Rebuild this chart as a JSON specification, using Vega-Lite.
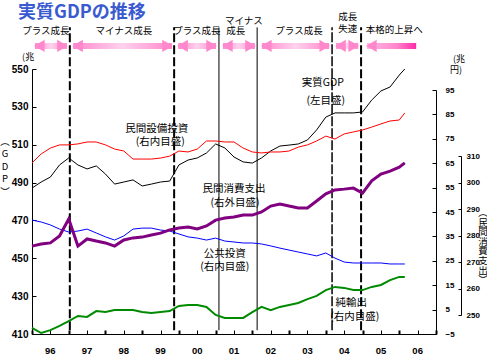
{
  "$schema": "https://vega.github.io/schema/vega-lite/v6.json",
  "width": 404,
  "height": 265,
  "autosize": "none",
  "padding": {"left": 32, "top": 69, "right": 51, "bottom": 21},
  "background": "white",
  "config": {
    "view": {"stroke": null},
    "axis": {"grid": false, "domainColor": "black", "tickColor": "black", "labelColor": "black", "labelFont": "Liberation Sans", "labelFontWeight": "bold", "domainWidth": 1},
    "text": {"font": "Noto Sans CJK JP", "color": "black"}
  },
  "datasets": {
    "q": [
      {"t": 1996.00, "gdp": 487.1, "capex": 65.1, "pub": 41.7, "nx": -2.5, "cons": 276.0},
      {"t": 1996.25, "gdp": 490.3, "capex": 68.8, "pub": 40.9, "nx": -4.6, "cons": 276.8},
      {"t": 1996.50, "gdp": 492.9, "capex": 71.2, "pub": 39.7, "nx": -3.4, "cons": 277.2},
      {"t": 1996.75, "gdp": 499.3, "capex": 72.5, "pub": 38.0, "nx": -1.7, "cons": 279.8},
      {"t": 1997.00, "gdp": 503.0, "capex": 72.5, "pub": 36.8, "nx": 0.3, "cons": 286.2},
      {"t": 1997.25, "gdp": 499.3, "capex": 72.9, "pub": 37.2, "nx": 2.4, "cons": 276.0},
      {"t": 1997.50, "gdp": 497.2, "capex": 73.7, "pub": 38.0, "nx": 2.0, "cons": 278.7},
      {"t": 1997.75, "gdp": 498.8, "capex": 73.7, "pub": 36.4, "nx": 4.4, "cons": 277.9},
      {"t": 1998.00, "gdp": 494.5, "capex": 72.5, "pub": 34.8, "nx": 4.0, "cons": 277.2},
      {"t": 1998.25, "gdp": 489.2, "capex": 70.8, "pub": 33.5, "nx": 4.8, "cons": 276.0},
      {"t": 1998.50, "gdp": 490.3, "capex": 70.0, "pub": 35.2, "nx": 4.8, "cons": 278.3},
      {"t": 1998.75, "gdp": 491.4, "capex": 66.7, "pub": 38.0, "nx": 4.8, "cons": 279.1},
      {"t": 1999.00, "gdp": 488.2, "capex": 66.7, "pub": 38.4, "nx": 4.0, "cons": 279.4},
      {"t": 1999.25, "gdp": 489.2, "capex": 66.7, "pub": 38.4, "nx": 3.6, "cons": 280.2},
      {"t": 1999.50, "gdp": 490.3, "capex": 67.1, "pub": 37.6, "nx": 4.0, "cons": 280.9},
      {"t": 1999.75, "gdp": 490.8, "capex": 67.9, "pub": 37.2, "nx": 4.4, "cons": 282.1},
      {"t": 2000.00, "gdp": 499.3, "capex": 70.0, "pub": 36.0, "nx": 6.5, "cons": 282.8},
      {"t": 2000.25, "gdp": 501.9, "capex": 69.6, "pub": 34.8, "nx": 6.9, "cons": 283.2},
      {"t": 2000.50, "gdp": 503.0, "capex": 70.8, "pub": 34.3, "nx": 6.9, "cons": 282.5},
      {"t": 2000.75, "gdp": 505.6, "capex": 74.1, "pub": 33.5, "nx": 6.1, "cons": 283.6},
      {"t": 2001.00, "gdp": 510.4, "capex": 74.1, "pub": 34.3, "nx": 2.8, "cons": 285.8},
      {"t": 2001.25, "gdp": 508.3, "capex": 73.7, "pub": 33.1, "nx": 1.6, "cons": 286.6},
      {"t": 2001.50, "gdp": 503.5, "capex": 73.7, "pub": 32.7, "nx": 1.6, "cons": 287.0},
      {"t": 2001.75, "gdp": 500.9, "capex": 71.2, "pub": 32.3, "nx": 1.6, "cons": 287.7},
      {"t": 2002.00, "gdp": 500.3, "capex": 69.6, "pub": 32.3, "nx": 4.0, "cons": 287.7},
      {"t": 2002.25, "gdp": 503.0, "capex": 69.2, "pub": 31.9, "nx": 6.1, "cons": 288.9},
      {"t": 2002.50, "gdp": 506.7, "capex": 69.6, "pub": 31.1, "nx": 4.8, "cons": 291.1},
      {"t": 2002.75, "gdp": 509.3, "capex": 69.6, "pub": 30.2, "nx": 6.1, "cons": 291.9},
      {"t": 2003.00, "gdp": 509.8, "capex": 70.0, "pub": 29.4, "nx": 6.9, "cons": 291.1},
      {"t": 2003.25, "gdp": 510.4, "capex": 71.6, "pub": 28.6, "nx": 7.7, "cons": 290.4},
      {"t": 2003.50, "gdp": 512.5, "capex": 72.5, "pub": 27.8, "nx": 9.3, "cons": 290.4},
      {"t": 2003.75, "gdp": 517.8, "capex": 74.1, "pub": 27.0, "nx": 10.6, "cons": 293.0},
      {"t": 2004.00, "gdp": 524.6, "capex": 76.1, "pub": 28.2, "nx": 13.0, "cons": 295.7},
      {"t": 2004.25, "gdp": 526.8, "capex": 74.9, "pub": 26.1, "nx": 14.3, "cons": 297.2},
      {"t": 2004.50, "gdp": 526.8, "capex": 77.0, "pub": 24.5, "nx": 13.9, "cons": 297.5},
      {"t": 2004.75, "gdp": 526.8, "capex": 77.8, "pub": 24.1, "nx": 13.0, "cons": 297.9},
      {"t": 2005.00, "gdp": 527.3, "capex": 78.6, "pub": 24.1, "nx": 13.0, "cons": 296.0},
      {"t": 2005.25, "gdp": 533.6, "capex": 79.8, "pub": 24.1, "nx": 14.3, "cons": 300.6},
      {"t": 2005.50, "gdp": 538.4, "capex": 81.1, "pub": 24.1, "nx": 15.1, "cons": 303.2},
      {"t": 2005.75, "gdp": 540.5, "capex": 82.3, "pub": 23.7, "nx": 17.1, "cons": 304.3},
      {"t": 2006.00, "gdp": 546.8, "capex": 82.7, "pub": 23.7, "nx": 18.4, "cons": 305.8},
      {"t": 2006.15, "gdp": 550.0, "capex": 85.6, "pub": 23.7, "nx": 18.4, "cons": 307.4}
    ]
  },
  "layer": [
    {
      "layer": [
        {
          "data": {"name": "q"},
          "mark": {"type": "line", "color": "black", "strokeWidth": 1},
          "encoding": {
            "x": {"field": "t", "type": "quantitative", "title": null, "scale": {"domain": [1996, 2007], "nice": false, "zero": false},
              "axis": {"values": [1996, 1996.5, 1997, 1997.5, 1998, 1998.5, 1999, 1999.5, 2000, 2000.5, 2001, 2001.5, 2002, 2002.5, 2003, 2003.5, 2004, 2004.5, 2005, 2005.5, 2006, 2006.5, 2007], "labels": false, "tickSize": -4, "tickWidth": {"condition": {"test": "datum.value % 1 == 0", "value": 2}, "value": 1}}},
            "y": {"field": "gdp", "type": "quantitative", "title": null, "scale": {"domain": [410, 550], "nice": false, "zero": false},
              "axis": {"orient": "left", "values": [410, 430, 450, 470, 490, 510, 530, 550], "tickSize": -4, "labelPadding": 8, "labelFontSize": 10}}
          }
        },
        {
          "data": {"values": [{"t": 1997.03, "y1": 412, "y2": 572}, {"t": 1999.87, "y1": 412, "y2": 572}, {"t": 2004.96, "y1": 412, "y2": 572}]},
          "mark": {"type": "rule", "color": "black", "strokeWidth": 2, "strokeDash": [9, 3]},
          "encoding": {
            "x": {"field": "t", "type": "quantitative", "title": null, "scale": {"domain": [1996, 2007], "nice": false, "zero": false},
              "axis": {"values": [1996, 1996.5, 1997, 1997.5, 1998, 1998.5, 1999, 1999.5, 2000, 2000.5, 2001, 2001.5, 2002, 2002.5, 2003, 2003.5, 2004, 2004.5, 2005, 2005.5, 2006, 2006.5, 2007], "labels": false, "tickSize": -4, "tickWidth": {"condition": {"test": "datum.value % 1 == 0", "value": 2}, "value": 1}}},
            "y": {"field": "y1", "type": "quantitative", "title": null, "scale": {"domain": [410, 550], "nice": false, "zero": false},
              "axis": {"orient": "left", "values": [410, 430, 450, 470, 490, 510, 530, 550], "tickSize": -4, "labelPadding": 8, "labelFontSize": 10}},
            "y2": {"field": "y2"}
          }
        },
        {
          "data": {"values": [{"t": 2004.17, "y1": 412, "y2": 572}]},
          "mark": {"type": "rule", "color": "black", "strokeWidth": 1.5, "strokeDash": [10, 2]},
          "encoding": {
            "x": {"field": "t", "type": "quantitative", "title": null, "scale": {"domain": [1996, 2007], "nice": false, "zero": false},
              "axis": {"values": [1996, 1996.5, 1997, 1997.5, 1998, 1998.5, 1999, 1999.5, 2000, 2000.5, 2001, 2001.5, 2002, 2002.5, 2003, 2003.5, 2004, 2004.5, 2005, 2005.5, 2006, 2006.5, 2007], "labels": false, "tickSize": -4, "tickWidth": {"condition": {"test": "datum.value % 1 == 0", "value": 2}, "value": 1}}},
            "y": {"field": "y1", "type": "quantitative", "title": null, "scale": {"domain": [410, 550], "nice": false, "zero": false},
              "axis": {"orient": "left", "values": [410, 430, 450, 470, 490, 510, 530, 550], "tickSize": -4, "labelPadding": 8, "labelFontSize": 10}},
            "y2": {"field": "y2"}
          }
        },
        {
          "data": {"values": [{"t": 2001.09, "y1": 412, "y2": 572}, {"t": 2002.13, "y1": 412, "y2": 572}]},
          "mark": {"type": "rule", "color": "black", "strokeWidth": 1},
          "encoding": {
            "x": {"field": "t", "type": "quantitative", "title": null, "scale": {"domain": [1996, 2007], "nice": false, "zero": false},
              "axis": {"values": [1996, 1996.5, 1997, 1997.5, 1998, 1998.5, 1999, 1999.5, 2000, 2000.5, 2001, 2001.5, 2002, 2002.5, 2003, 2003.5, 2004, 2004.5, 2005, 2005.5, 2006, 2006.5, 2007], "labels": false, "tickSize": -4, "tickWidth": {"condition": {"test": "datum.value % 1 == 0", "value": 2}, "value": 1}}},
            "y": {"field": "y1", "type": "quantitative", "title": null, "scale": {"domain": [410, 550], "nice": false, "zero": false},
              "axis": {"orient": "left", "values": [410, 430, 450, 470, 490, 510, 530, 550], "tickSize": -4, "labelPadding": 8, "labelFontSize": 10}},
            "y2": {"field": "y2"}
          }
        },
        {
          "data": {"values": [
            {"a": 1996.08, "b": 1996.95, "lo": 560.6, "hi": 563.8},
            {"a": 1997.12, "b": 1999.81, "lo": 560.6, "hi": 563.8},
            {"a": 1999.98, "b": 2001.01, "lo": 560.6, "hi": 563.8},
            {"a": 2001.20, "b": 2002.07, "lo": 560.6, "hi": 563.8},
            {"a": 2002.26, "b": 2004.09, "lo": 560.6, "hi": 563.8},
            {"a": 2004.28, "b": 2004.88, "lo": 560.6, "hi": 563.8}
          ]},
          "mark": {"type": "rect", "color": {"gradient": "linear", "x1": 0, "y1": 0, "x2": 1, "y2": 0, "stops": [{"offset": 0, "color": "#ff88cc"}, {"offset": 0.5, "color": "#ffd2ee"}, {"offset": 1, "color": "#ff88cc"}]}},
          "encoding": {
            "x": {"field": "a", "type": "quantitative", "title": null, "scale": {"domain": [1996, 2007], "nice": false, "zero": false},
              "axis": {"values": [1996, 1996.5, 1997, 1997.5, 1998, 1998.5, 1999, 1999.5, 2000, 2000.5, 2001, 2001.5, 2002, 2002.5, 2003, 2003.5, 2004, 2004.5, 2005, 2005.5, 2006, 2006.5, 2007], "labels": false, "tickSize": -4, "tickWidth": {"condition": {"test": "datum.value % 1 == 0", "value": 2}, "value": 1}}},
            "x2": {"field": "b"},
            "y": {"field": "lo", "type": "quantitative", "title": null, "scale": {"domain": [410, 550], "nice": false, "zero": false},
              "axis": {"orient": "left", "values": [410, 430, 450, 470, 490, 510, 530, 550], "tickSize": -4, "labelPadding": 8, "labelFontSize": 10}},
            "y2": {"field": "hi"}
          }
        },
        {
          "data": {"values": [{"a": 2005.12, "b": 2006.46, "lo": 560.6, "hi": 563.8}]},
          "mark": {"type": "rect", "color": {"gradient": "linear", "x1": 0, "y1": 0, "x2": 1, "y2": 0, "stops": [{"offset": 0, "color": "#ffb8e4"}, {"offset": 0.6, "color": "#ff88cc"}, {"offset": 1, "color": "#ff2aa8"}]}},
          "encoding": {
            "x": {"field": "a", "type": "quantitative", "title": null, "scale": {"domain": [1996, 2007], "nice": false, "zero": false},
              "axis": {"values": [1996, 1996.5, 1997, 1997.5, 1998, 1998.5, 1999, 1999.5, 2000, 2000.5, 2001, 2001.5, 2002, 2002.5, 2003, 2003.5, 2004, 2004.5, 2005, 2005.5, 2006, 2006.5, 2007], "labels": false, "tickSize": -4, "tickWidth": {"condition": {"test": "datum.value % 1 == 0", "value": 2}, "value": 1}}},
            "x2": {"field": "b"},
            "y": {"field": "lo", "type": "quantitative", "title": null, "scale": {"domain": [410, 550], "nice": false, "zero": false},
              "axis": {"orient": "left", "values": [410, 430, 450, 470, 490, 510, 530, 550], "tickSize": -4, "labelPadding": 8, "labelFontSize": 10}},
            "y2": {"field": "hi"}
          }
        },
        {
          "data": {"values": [{"t": 1996.20, "v": 562.2}, {"t": 1997.24, "v": 562.2}, {"t": 2000.10, "v": 562.2}, {"t": 2001.32, "v": 562.2}, {"t": 2002.38, "v": 562.2}, {"t": 2004.40, "v": 562.2}, {"t": 2005.24, "v": 562.2}]},
          "mark": {"type": "point", "shape": "triangle-left", "filled": true, "size": 150, "color": "#ff88cc", "opacity": 1},
          "encoding": {
            "x": {"field": "t", "type": "quantitative", "title": null, "scale": {"domain": [1996, 2007], "nice": false, "zero": false},
              "axis": {"values": [1996, 1996.5, 1997, 1997.5, 1998, 1998.5, 1999, 1999.5, 2000, 2000.5, 2001, 2001.5, 2002, 2002.5, 2003, 2003.5, 2004, 2004.5, 2005, 2005.5, 2006, 2006.5, 2007], "labels": false, "tickSize": -4, "tickWidth": {"condition": {"test": "datum.value % 1 == 0", "value": 2}, "value": 1}}},
            "y": {"field": "v", "type": "quantitative", "title": null, "scale": {"domain": [410, 550], "nice": false, "zero": false},
              "axis": {"orient": "left", "values": [410, 430, 450, 470, 490, 510, 530, 550], "tickSize": -4, "labelPadding": 8, "labelFontSize": 10}}
          }
        },
        {
          "data": {"values": [{"t": 1996.83, "v": 562.2}, {"t": 1999.69, "v": 562.2}, {"t": 2000.89, "v": 562.2}, {"t": 2001.95, "v": 562.2}, {"t": 2003.97, "v": 562.2}, {"t": 2004.76, "v": 562.2}]},
          "mark": {"type": "point", "shape": "triangle-right", "filled": true, "size": 150, "color": "#ff88cc", "opacity": 1},
          "encoding": {
            "x": {"field": "t", "type": "quantitative", "title": null, "scale": {"domain": [1996, 2007], "nice": false, "zero": false},
              "axis": {"values": [1996, 1996.5, 1997, 1997.5, 1998, 1998.5, 1999, 1999.5, 2000, 2000.5, 2001, 2001.5, 2002, 2002.5, 2003, 2003.5, 2004, 2004.5, 2005, 2005.5, 2006, 2006.5, 2007], "labels": false, "tickSize": -4, "tickWidth": {"condition": {"test": "datum.value % 1 == 0", "value": 2}, "value": 1}}},
            "y": {"field": "v", "type": "quantitative", "title": null, "scale": {"domain": [410, 550], "nice": false, "zero": false},
              "axis": {"orient": "left", "values": [410, 430, 450, 470, 490, 510, 530, 550], "tickSize": -4, "labelPadding": 8, "labelFontSize": 10}}
          }
        },
        {
          "data": {"values": [
            {"t": 1996.38, "v": 570.1, "s": "プラス成長"},
            {"t": 1998.50, "v": 570.1, "s": "マイナス成長"},
            {"t": 2000.49, "v": 570.1, "s": "プラス成長"},
            {"t": 2001.77, "v": 575.4, "s": "マイナス"},
            {"t": 2001.55, "v": 570.1, "s": "成長"},
            {"t": 2003.27, "v": 570.1, "s": "プラス成長"},
            {"t": 2004.60, "v": 577.5, "s": "成長"},
            {"t": 2004.60, "v": 571.2, "s": "失速"},
            {"t": 2005.86, "v": 570.6, "s": "本格的上昇へ"},
            {"t": 2003.92, "v": 542.6, "s": "実質GDP"},
            {"t": 2004.00, "v": 533.1, "s": "(左目盛)"},
            {"t": 1999.40, "v": 518.3, "s": "民間設備投資"},
            {"t": 1999.49, "v": 511.4, "s": "(右内目盛)"},
            {"t": 2001.50, "v": 486.6, "s": "民間消費支出"},
            {"t": 2001.53, "v": 479.2, "s": "(右外目盛)"},
            {"t": 2001.25, "v": 452.3, "s": "公共投資"},
            {"t": 2001.25, "v": 445.4, "s": "(右内目盛)"},
            {"t": 2004.69, "v": 426.4, "s": "純輸出"},
            {"t": 2004.79, "v": 419.0, "s": "(右内目盛)"}
          ]},
          "mark": {"type": "text", "align": "center", "baseline": "middle"},
          "encoding": {
            "x": {"field": "t", "type": "quantitative", "title": null, "scale": {"domain": [1996, 2007], "nice": false, "zero": false},
              "axis": {"values": [1996, 1996.5, 1997, 1997.5, 1998, 1998.5, 1999, 1999.5, 2000, 2000.5, 2001, 2001.5, 2002, 2002.5, 2003, 2003.5, 2004, 2004.5, 2005, 2005.5, 2006, 2006.5, 2007], "labels": false, "tickSize": -4, "tickWidth": {"condition": {"test": "datum.value % 1 == 0", "value": 2}, "value": 1}}},
            "y": {"field": "v", "type": "quantitative", "title": null, "scale": {"domain": [410, 550], "nice": false, "zero": false},
              "axis": {"orient": "left", "values": [410, 430, 450, 470, 490, 510, 530, 550], "tickSize": -4, "labelPadding": 8, "labelFontSize": 10}},
            "text": {"field": "s"},
            "size": {"condition": {"test": "datum.v > 560", "value": 9.5}, "value": 10.5}
          }
        },
        {
          "data": {"values": [
            {"t": 1996.5, "v": 401.0, "s": "96"},
            {"t": 1997.5, "v": 401.0, "s": "97"},
            {"t": 1998.5, "v": 401.0, "s": "98"},
            {"t": 1999.5, "v": 401.0, "s": "99"},
            {"t": 2000.5, "v": 401.0, "s": "00"},
            {"t": 2001.5, "v": 401.0, "s": "01"},
            {"t": 2002.5, "v": 401.0, "s": "02"},
            {"t": 2003.5, "v": 401.0, "s": "03"},
            {"t": 2004.5, "v": 401.0, "s": "04"},
            {"t": 2005.5, "v": 401.0, "s": "05"},
            {"t": 2006.5, "v": 401.0, "s": "06"}
          ]},
          "mark": {"type": "text", "font": "Liberation Sans", "fontWeight": "bold", "fontSize": 9.5, "align": "center", "baseline": "middle"},
          "encoding": {
            "x": {"field": "t", "type": "quantitative", "title": null, "scale": {"domain": [1996, 2007], "nice": false, "zero": false},
              "axis": {"values": [1996, 1996.5, 1997, 1997.5, 1998, 1998.5, 1999, 1999.5, 2000, 2000.5, 2001, 2001.5, 2002, 2002.5, 2003, 2003.5, 2004, 2004.5, 2005, 2005.5, 2006, 2006.5, 2007], "labels": false, "tickSize": -4, "tickWidth": {"condition": {"test": "datum.value % 1 == 0", "value": 2}, "value": 1}}},
            "y": {"field": "v", "type": "quantitative", "title": null, "scale": {"domain": [410, 550], "nice": false, "zero": false},
              "axis": {"orient": "left", "values": [410, 430, 450, 470, 490, 510, 530, 550], "tickSize": -4, "labelPadding": 8, "labelFontSize": 10}},
            "text": {"field": "s"}
          }
        },
        {
          "data": {"values": [
            {"t": 1995.73, "v": 556.3, "s": "(兆"},
            {"t": 2007.46, "v": 555.3, "s": "(兆"},
            {"t": 2007.38, "v": 549.5, "s": "円)"}
          ]},
          "mark": {"type": "text", "fontSize": 9, "align": "left", "baseline": "middle"},
          "encoding": {
            "x": {"field": "t", "type": "quantitative", "title": null, "scale": {"domain": [1996, 2007], "nice": false, "zero": false},
              "axis": {"values": [1996, 1996.5, 1997, 1997.5, 1998, 1998.5, 1999, 1999.5, 2000, 2000.5, 2001, 2001.5, 2002, 2002.5, 2003, 2003.5, 2004, 2004.5, 2005, 2005.5, 2006, 2006.5, 2007], "labels": false, "tickSize": -4, "tickWidth": {"condition": {"test": "datum.value % 1 == 0", "value": 2}, "value": 1}}},
            "y": {"field": "v", "type": "quantitative", "title": null, "scale": {"domain": [410, 550], "nice": false, "zero": false},
              "axis": {"orient": "left", "values": [410, 430, 450, 470, 490, 510, 530, 550], "tickSize": -4, "labelPadding": 8, "labelFontSize": 10}},
            "text": {"field": "s"}
          }
        },
        {
          "data": {"values": [{"t": 1995.265, "v": 514.1, "s": "︵\nG\nD\nP\n︶"}]},
          "mark": {"type": "text", "fontSize": 9.5, "align": "center", "baseline": "top", "lineBreak": "\n", "lineHeight": 12.5},
          "encoding": {
            "x": {"field": "t", "type": "quantitative", "title": null, "scale": {"domain": [1996, 2007], "nice": false, "zero": false},
              "axis": {"values": [1996, 1996.5, 1997, 1997.5, 1998, 1998.5, 1999, 1999.5, 2000, 2000.5, 2001, 2001.5, 2002, 2002.5, 2003, 2003.5, 2004, 2004.5, 2005, 2005.5, 2006, 2006.5, 2007], "labels": false, "tickSize": -4, "tickWidth": {"condition": {"test": "datum.value % 1 == 0", "value": 2}, "value": 1}}},
            "y": {"field": "v", "type": "quantitative", "title": null, "scale": {"domain": [410, 550], "nice": false, "zero": false},
              "axis": {"orient": "left", "values": [410, 430, 450, 470, 490, 510, 530, 550], "tickSize": -4, "labelPadding": 8, "labelFontSize": 10}},
            "text": {"field": "s"}
          }
        },
        {
          "data": {"values": [{"t": 2008.28, "v": 476.6, "s": "︵\n民\n間\n消\n費\n支\n出\n︶"}]},
          "mark": {"type": "text", "fontSize": 9.5, "align": "center", "baseline": "top", "lineBreak": "\n", "lineHeight": 9.6},
          "encoding": {
            "x": {"field": "t", "type": "quantitative", "title": null, "scale": {"domain": [1996, 2007], "nice": false, "zero": false},
              "axis": {"values": [1996, 1996.5, 1997, 1997.5, 1998, 1998.5, 1999, 1999.5, 2000, 2000.5, 2001, 2001.5, 2002, 2002.5, 2003, 2003.5, 2004, 2004.5, 2005, 2005.5, 2006, 2006.5, 2007], "labels": false, "tickSize": -4, "tickWidth": {"condition": {"test": "datum.value % 1 == 0", "value": 2}, "value": 1}}},
            "y": {"field": "v", "type": "quantitative", "title": null, "scale": {"domain": [410, 550], "nice": false, "zero": false},
              "axis": {"orient": "left", "values": [410, 430, 450, 470, 490, 510, 530, 550], "tickSize": -4, "labelPadding": 8, "labelFontSize": 10}},
            "text": {"field": "s"}
          }
        },
        {
          "data": {"values": [{"t": 1995.62, "v": 579.6, "s": "実質GDPの推移"}]},
          "mark": {"type": "text", "fontSize": 18, "fontWeight": "bold", "align": "left", "baseline": "middle", "color": "#3a5ad0"},
          "encoding": {
            "x": {"field": "t", "type": "quantitative", "title": null, "scale": {"domain": [1996, 2007], "nice": false, "zero": false},
              "axis": {"values": [1996, 1996.5, 1997, 1997.5, 1998, 1998.5, 1999, 1999.5, 2000, 2000.5, 2001, 2001.5, 2002, 2002.5, 2003, 2003.5, 2004, 2004.5, 2005, 2005.5, 2006, 2006.5, 2007], "labels": false, "tickSize": -4, "tickWidth": {"condition": {"test": "datum.value % 1 == 0", "value": 2}, "value": 1}}},
            "y": {"field": "v", "type": "quantitative", "title": null, "scale": {"domain": [410, 550], "nice": false, "zero": false},
              "axis": {"orient": "left", "values": [410, 430, 450, 470, 490, 510, 530, 550], "tickSize": -4, "labelPadding": 8, "labelFontSize": 10}},
            "text": {"field": "s"}
          }
        }
      ]
    },
    {
      "layer": [
        {
          "data": {"name": "q"},
          "mark": {"type": "line", "color": "#ff0000", "strokeWidth": 1},
          "encoding": {
            "x": {"field": "t", "type": "quantitative", "title": null, "scale": {"domain": [1996, 2007], "nice": false, "zero": false},
              "axis": {"values": [1996, 1996.5, 1997, 1997.5, 1998, 1998.5, 1999, 1999.5, 2000, 2000.5, 2001, 2001.5, 2002, 2002.5, 2003, 2003.5, 2004, 2004.5, 2005, 2005.5, 2006, 2006.5, 2007], "labels": false, "tickSize": -4, "tickWidth": {"condition": {"test": "datum.value % 1 == 0", "value": 2}, "value": 1}}},
            "y": {"field": "capex", "type": "quantitative", "title": null, "scale": {"domain": [-5, 95], "range": [265, 21], "nice": false, "zero": false},
              "axis": {"orient": "right", "values": [-5, 5, 15, 25, 35, 45, 55, 65, 75, 85, 95], "tickSize": -4, "labelPadding": 13, "labelFontSize": 8}}
          }
        },
        {
          "data": {"name": "q"},
          "mark": {"type": "line", "color": "#0000ff", "strokeWidth": 1},
          "encoding": {
            "x": {"field": "t", "type": "quantitative", "title": null, "scale": {"domain": [1996, 2007], "nice": false, "zero": false},
              "axis": {"values": [1996, 1996.5, 1997, 1997.5, 1998, 1998.5, 1999, 1999.5, 2000, 2000.5, 2001, 2001.5, 2002, 2002.5, 2003, 2003.5, 2004, 2004.5, 2005, 2005.5, 2006, 2006.5, 2007], "labels": false, "tickSize": -4, "tickWidth": {"condition": {"test": "datum.value % 1 == 0", "value": 2}, "value": 1}}},
            "y": {"field": "pub", "type": "quantitative", "title": null, "scale": {"domain": [-5, 95], "range": [265, 21], "nice": false, "zero": false},
              "axis": {"orient": "right", "values": [-5, 5, 15, 25, 35, 45, 55, 65, 75, 85, 95], "tickSize": -4, "labelPadding": 13, "labelFontSize": 8}}
          }
        },
        {
          "data": {"name": "q"},
          "mark": {"type": "line", "color": "#008a00", "strokeWidth": 2},
          "encoding": {
            "x": {"field": "t", "type": "quantitative", "title": null, "scale": {"domain": [1996, 2007], "nice": false, "zero": false},
              "axis": {"values": [1996, 1996.5, 1997, 1997.5, 1998, 1998.5, 1999, 1999.5, 2000, 2000.5, 2001, 2001.5, 2002, 2002.5, 2003, 2003.5, 2004, 2004.5, 2005, 2005.5, 2006, 2006.5, 2007], "labels": false, "tickSize": -4, "tickWidth": {"condition": {"test": "datum.value % 1 == 0", "value": 2}, "value": 1}}},
            "y": {"field": "nx", "type": "quantitative", "title": null, "scale": {"domain": [-5, 95], "range": [265, 21], "nice": false, "zero": false},
              "axis": {"orient": "right", "values": [-5, 5, 15, 25, 35, 45, 55, 65, 75, 85, 95], "tickSize": -4, "labelPadding": 13, "labelFontSize": 8}}
          }
        }
      ]
    },
    {
      "data": {"name": "q"},
      "mark": {"type": "line", "color": "#800080", "strokeWidth": 3},
      "encoding": {
        "x": {"field": "t", "type": "quantitative", "title": null, "scale": {"domain": [1996, 2007], "nice": false, "zero": false},
          "axis": {"values": [1996, 1996.5, 1997, 1997.5, 1998, 1998.5, 1999, 1999.5, 2000, 2000.5, 2001, 2001.5, 2002, 2002.5, 2003, 2003.5, 2004, 2004.5, 2005, 2005.5, 2006, 2006.5, 2007], "labels": false, "tickSize": -4, "tickWidth": {"condition": {"test": "datum.value % 1 == 0", "value": 2}, "value": 1}}},
        "y": {"field": "cons", "type": "quantitative", "title": null, "scale": {"domain": [250, 310], "range": [246, 87], "nice": false, "zero": false},
          "axis": {"orient": "right", "offset": 25, "values": [250, 260, 270, 280, 290, 300, 310], "tickSize": -3, "labelPadding": 8, "labelFontSize": 8}}
      }
    }
  ],
  "resolve": {"scale": {"y": "independent"}}
}
